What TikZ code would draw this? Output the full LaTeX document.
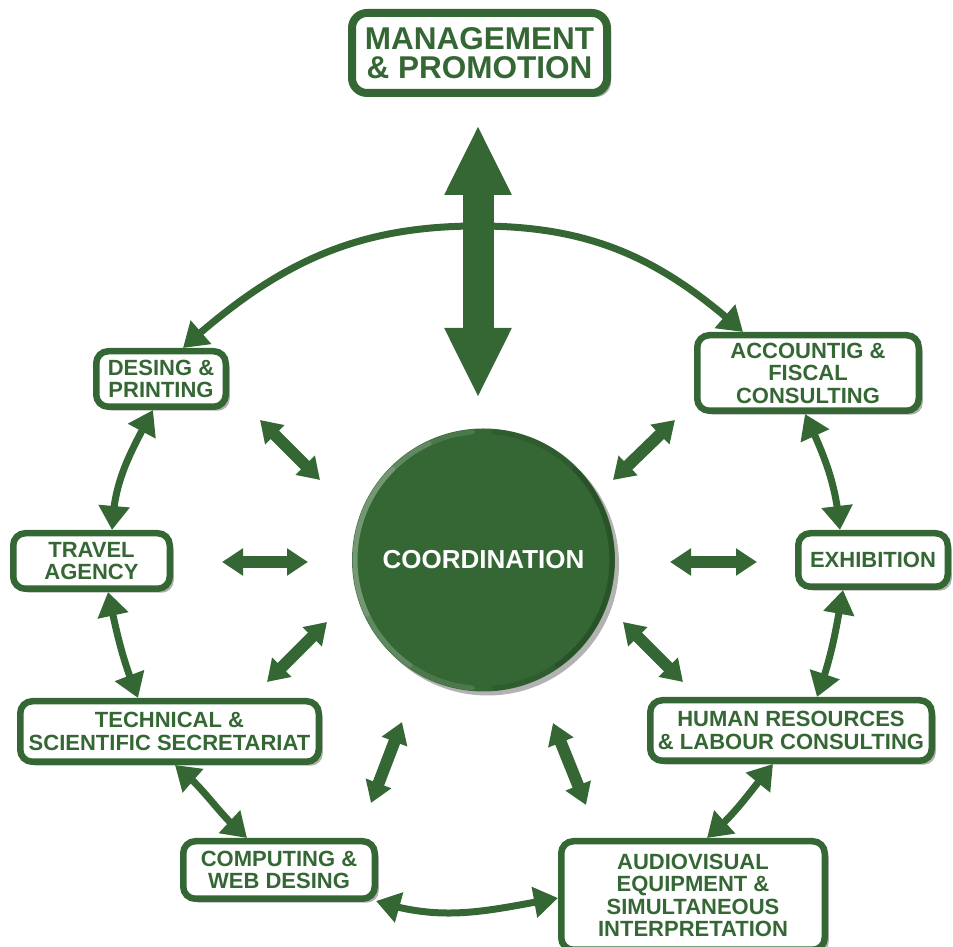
\documentclass[tikz,border=0pt]{standalone}
\usepackage{fontspec}
\setmainfont{Liberation Sans}
\usetikzlibrary{arrows.meta,bending,shadows,calc}
\definecolor{dg}{RGB}{52,103,52}
\begin{document}
\begin{tikzpicture}[x=1pt,y=1pt,
  box/.style={draw=dg, line width=6.5pt, fill=white, rounded corners=12pt, align=center,
    text=dg, font=\fontsize{22}{22.5}\selectfont\bfseries, inner sep=0pt,
    drop shadow={shadow xshift=4pt, shadow yshift=-4pt, opacity=0.3, fill=black}},
  ring/.style={draw=dg, line width=7pt,
    {Triangle[width=30pt,length=24pt]}-{Triangle[width=30pt,length=24pt]}},
  rad/.style={draw=dg, line width=12pt,
    {Triangle[width=26pt,length=21pt]}-{Triangle[width=26pt,length=21pt]}},
  big/.style={draw=dg, line width=31pt,
    {Triangle[width=62pt,length=70pt]}-{Triangle[width=62pt,length=70pt]}},
  rim/.style={line width=5pt, line cap=round}]
\useasboundingbox (0,0) rectangle (953,947);

% nodes
\node[box, line width=8pt, rounded corners=15pt, minimum width=255pt, minimum height=80pt,
      font=\fontsize{31.5}{28.5}\selectfont\bfseries] (mp) at (479.5,894) {MANAGEMENT\\\& PROMOTION};
\node[box, minimum width=129.5pt, minimum height=55.5pt] (dp) at (161,568) {DESING \&\\PRINTING};
\node[box, minimum width=221.5pt, minimum height=75.5pt] (ac) at (808,574) {ACCOUNTIG \&\\FISCAL\\CONSULTING};
\node[box, minimum width=149.5pt, minimum height=53.5pt] (ex) at (873,387) {EXHIBITION};
\node[box, minimum width=156.5pt, minimum height=55.5pt] (ta) at (91.5,386) {TRAVEL\\AGENCY};
\node[box, minimum width=298.5pt, minimum height=60.5pt] (ts) at (169.5,215.5) {TECHNICAL \&\\SCIENTIFIC SECRETARIAT};
\node[box, minimum width=281.5pt, minimum height=60.5pt] (hr) at (791,216.5) {HUMAN RESOURCES\\\& LABOUR CONSULTING};
\node[box, minimum width=191.5pt, minimum height=57.5pt] (cw) at (279,77) {COMPUTING \&\\WEB DESING};
\node[box, minimum width=263.5pt, minimum height=108.5pt] (av) at (693,51.5) {AUDIOVISUAL\\EQUIPMENT \&\\SIMULTANEOUS\\INTERPRETATION};

% coordination circle
\node[circle, fill=dg, minimum size=263pt, inner sep=0pt,
      drop shadow={shadow xshift=4pt, shadow yshift=-4pt, opacity=0.3, fill=black}] (co) at (483.5,387) {};
% bevel rim
\draw[rim, white, opacity=0.12] ([shift={(95:128.5)}]co.center) arc[start angle=95, end angle=265, radius=128.5];
\draw[rim, white, opacity=0.12] ([shift={(115:128.5)}]co.center) arc[start angle=115, end angle=235, radius=128.5];
\draw[rim, white, opacity=0.12] ([shift={(135:128.5)}]co.center) arc[start angle=135, end angle=205, radius=128.5];
\draw[rim, black, opacity=0.10] ([shift={(-85:128.5)}]co.center) arc[start angle=-85, end angle=85, radius=128.5];
\draw[rim, black, opacity=0.10] ([shift={(-55:128.5)}]co.center) arc[start angle=-55, end angle=45, radius=128.5];
\node[text=white, font=\fontsize{26}{26}\selectfont\bfseries] (cot) at (co.center) {COORDINATION};

% ring connectors
\coordinate (arctop) at (478,721);
\draw[ring] ([xshift=22pt]dp.north) to[out=42,in=180] (arctop) to[out=0,in=138] ([xshift=-65pt]ac.north);
\draw[ring] ([xshift=-8pt]dp.south) to[out=-118,in=88] ([xshift=20.5pt]ta.north);
\draw[ring] ([xshift=16.5pt]ta.south) to[out=-78,in=112] ([xshift=-31.5pt]ts.north);
\draw[ring] ([xshift=5.5pt]ts.south) to[out=-38,in=140] ([xshift=-32pt]cw.north);
\draw[ring] ([xshift=-2pt,yshift=1pt]cw.south east) to[out=-18,in=190] ([yshift=-2.5pt]av.west);
\draw[ring] ([xshift=14pt]av.north) to[out=40,in=-130] ([xshift=-18pt]hr.south);
\draw[ring] ([xshift=26pt]hr.north) to[out=70,in=-100] ([xshift=-30pt]ex.south);
\draw[ring] ([xshift=-33pt]ex.north) to[out=95,in=-65] ([xshift=-3pt]ac.south);

% big vertical arrow
\coordinate (bu) at (478,822);
\coordinate (bl) at (478,549);
\draw[big] (bl) -- (bu);

% radial arrows
\coordinate (a1) at (260,527); \coordinate (a2) at (320,467);
\coordinate (b1) at (222,385); \coordinate (b2) at (308,385);
\coordinate (c1) at (267,265); \coordinate (c2) at (327,325);
\coordinate (d1) at (402,225); \coordinate (d2) at (371,144);
\coordinate (e1) at (553,224); \coordinate (e2) at (586,142);
\coordinate (f1) at (623,325); \coordinate (f2) at (683,265);
\coordinate (g1) at (670,385); \coordinate (g2) at (757,385);
\coordinate (h1) at (613,467); \coordinate (h2) at (675,527);
\draw[rad] (a1) -- (a2);
\draw[rad] (b1) -- (b2);
\draw[rad] (c1) -- (c2);
\draw[rad] (d1) -- (d2);
\draw[rad] (e1) -- (e2);
\draw[rad] (f1) -- (f2);
\draw[rad] (g1) -- (g2);
\draw[rad] (h1) -- (h2);
\end{tikzpicture}
\end{document}
